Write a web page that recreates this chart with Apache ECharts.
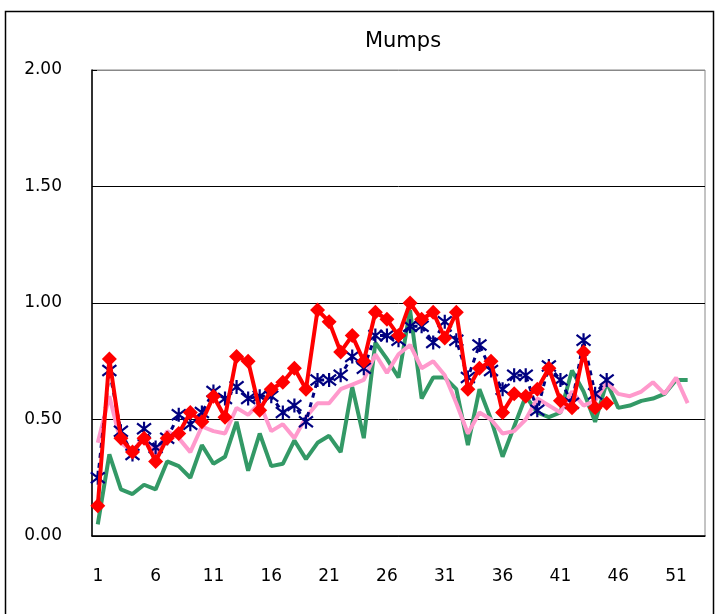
<!DOCTYPE html>
<html>
<head>
<meta charset="utf-8">
<script src="https://cdn.jsdelivr.net/npm/echarts@6/dist/echarts.min.js"></script>
<style>
  html, body { margin: 0; padding: 0; background: #fff; }
  #chart { width: 721px; height: 614px; }
</style>
</head>
<body>
<div id="chart"></div>
<script>
// weeks 1..53
const weeks = Array.from({ length: 53 }, (_, i) => String(i + 1));
const yTicks = [0, 0.5, 1, 1.5, 2];

// current season (red, diamonds)
const seriesRed = [
  0.13, 0.76, 0.42, 0.36, 0.42, 0.32, 0.42, 0.44, 0.53, 0.49,
  0.60, 0.51, 0.77, 0.75, 0.54, 0.63, 0.66, 0.72, 0.63, 0.97,
  0.92, 0.79, 0.86, 0.75, 0.96, 0.93, 0.86, 1.00, 0.93, 0.96,
  0.85, 0.96, 0.63, 0.72, 0.75, 0.53, 0.61, 0.60, 0.63, 0.72,
  0.58, 0.55, 0.79, 0.55, 0.57, null, null, null, null, null,
  null, null, null
];
// previous season (navy, stars, dashed)
const seriesNavy = [
  0.25, 0.71, 0.45, 0.35, 0.46, 0.38, 0.42, 0.52, 0.48, 0.53,
  0.62, 0.59, 0.64, 0.59, 0.60, 0.60, 0.53, 0.56, 0.49, 0.67,
  0.67, 0.69, 0.77, 0.72, 0.86, 0.86, 0.84, 0.90, 0.90, 0.83,
  0.92, 0.84, 0.68, 0.82, 0.71, 0.63, 0.69, 0.69, 0.54, 0.73,
  0.67, 0.57, 0.84, 0.61, 0.67, null, null, null, null, null,
  null, null, null
];
// pink line
const seriesPink = [
  0.40, 0.60, 0.40, 0.36, 0.43, 0.35, 0.45, 0.42, 0.36, 0.47,
  0.45, 0.44, 0.55, 0.52, 0.57, 0.45, 0.48, 0.42, 0.51, 0.57,
  0.57, 0.63, 0.65, 0.67, 0.78, 0.70, 0.78, 0.82, 0.72, 0.75,
  0.69, 0.57, 0.44, 0.53, 0.50, 0.44, 0.45, 0.50, 0.59, 0.56,
  0.53, 0.62, 0.56, 0.58, 0.66, 0.61, 0.60, 0.62, 0.66, 0.61,
  0.68, 0.57, null
];
// green line
const seriesGreen = [
  0.05, 0.35, 0.20, 0.18, 0.22, 0.20, 0.32, 0.30, 0.25, 0.39,
  0.31, 0.34, 0.49, 0.28, 0.44, 0.30, 0.31, 0.41, 0.33, 0.40,
  0.43, 0.36, 0.64, 0.42, 0.83, 0.76, 0.68, 0.97, 0.59, 0.68,
  0.68, 0.63, 0.39, 0.63, 0.50, 0.34, 0.47, 0.60, 0.53, 0.51,
  0.53, 0.71, 0.62, 0.49, 0.66, 0.55, 0.56, 0.58, 0.59, 0.61,
  0.67, 0.67, null
];

const FONT = "DejaVu Sans";
const chart = echarts.init(document.getElementById("chart"));

// asterisk-like marker (X with a vertical bar)
const starPath = "path://M0,0L10,10M10,0L0,10M5,-1.5L5,11.5";

chart.setOption({
  animation: false,
  backgroundColor: "#fff",
  title: {
    text: "Mumps",
    left: 398,
    top: 26,
    textAlign: "center",
    textStyle: { fontFamily: FONT, fontSize: 21, fontWeight: "normal", color: "#000" },
  },
  graphic: [
    {
      type: "rect",
      shape: { x: 5.5, y: 11.5, width: 708, height: 620 },
      style: { fill: "none", stroke: "#000", lineWidth: 1.5 },
      silent: true,
    },
  ],
  grid: { left: 92, right: 16, top: 70, bottom: 78, show: true, borderColor: "#888", borderWidth: 1 },
  xAxis: {
    type: "category",
    data: weeks,
    boundaryGap: true,
    axisLine: { lineStyle: { color: "#000", width: 1.5 } },
    axisTick: { interval: 4, inside: true, length: 7, lineStyle: { color: "#000" } },
    axisLabel: { interval: 4, margin: 32, fontFamily: FONT, fontSize: 17, color: "#000" },
    splitLine: { show: false },
  },
  yAxis: {
    type: "value",
    min: yTicks[0],
    max: yTicks[yTicks.length - 1],
    interval: 0.5,
    axisLine: { show: true, lineStyle: { color: "#000", width: 1.5 } },
    axisTick: { show: true, inside: true, length: 5, lineStyle: { color: "#000" } },
    axisLabel: {
      margin: 30,
      fontFamily: FONT,
      fontSize: 17,
      color: "#000",
      formatter: (v) => v.toFixed(2),
    },
    splitLine: { lineStyle: { color: ["#000", "#000", "#000", "#000", "#888"], width: 1 } },
  },
  series: [
    {
      name: "green",
      type: "line",
      data: seriesGreen,
      symbol: "none",
      lineStyle: { color: "#339966", width: 4 },
      itemStyle: { color: "#339966" },
      z: 2,
    },
    {
      name: "pink",
      type: "line",
      data: seriesPink,
      symbol: "none",
      lineStyle: { color: "#ff99cc", width: 4 },
      itemStyle: { color: "#ff99cc" },
      z: 3,
    },
    {
      name: "navy",
      type: "line",
      data: seriesNavy,
      symbol: starPath,
      symbolSize: 14,
      showAllSymbol: true,
      lineStyle: { color: "#000080", width: 3, type: [5, 5] },
      itemStyle: { color: "transparent", borderColor: "#000080", borderWidth: 2.2 },
      z: 4,
    },
    {
      name: "red",
      type: "line",
      data: seriesRed,
      symbol: "diamond",
      symbolSize: 15,
      showAllSymbol: true,
      lineStyle: { color: "#ff0000", width: 4 },
      itemStyle: { color: "#ff0000" },
      z: 5,
    },
  ],
});
</script>
</body>
</html>
